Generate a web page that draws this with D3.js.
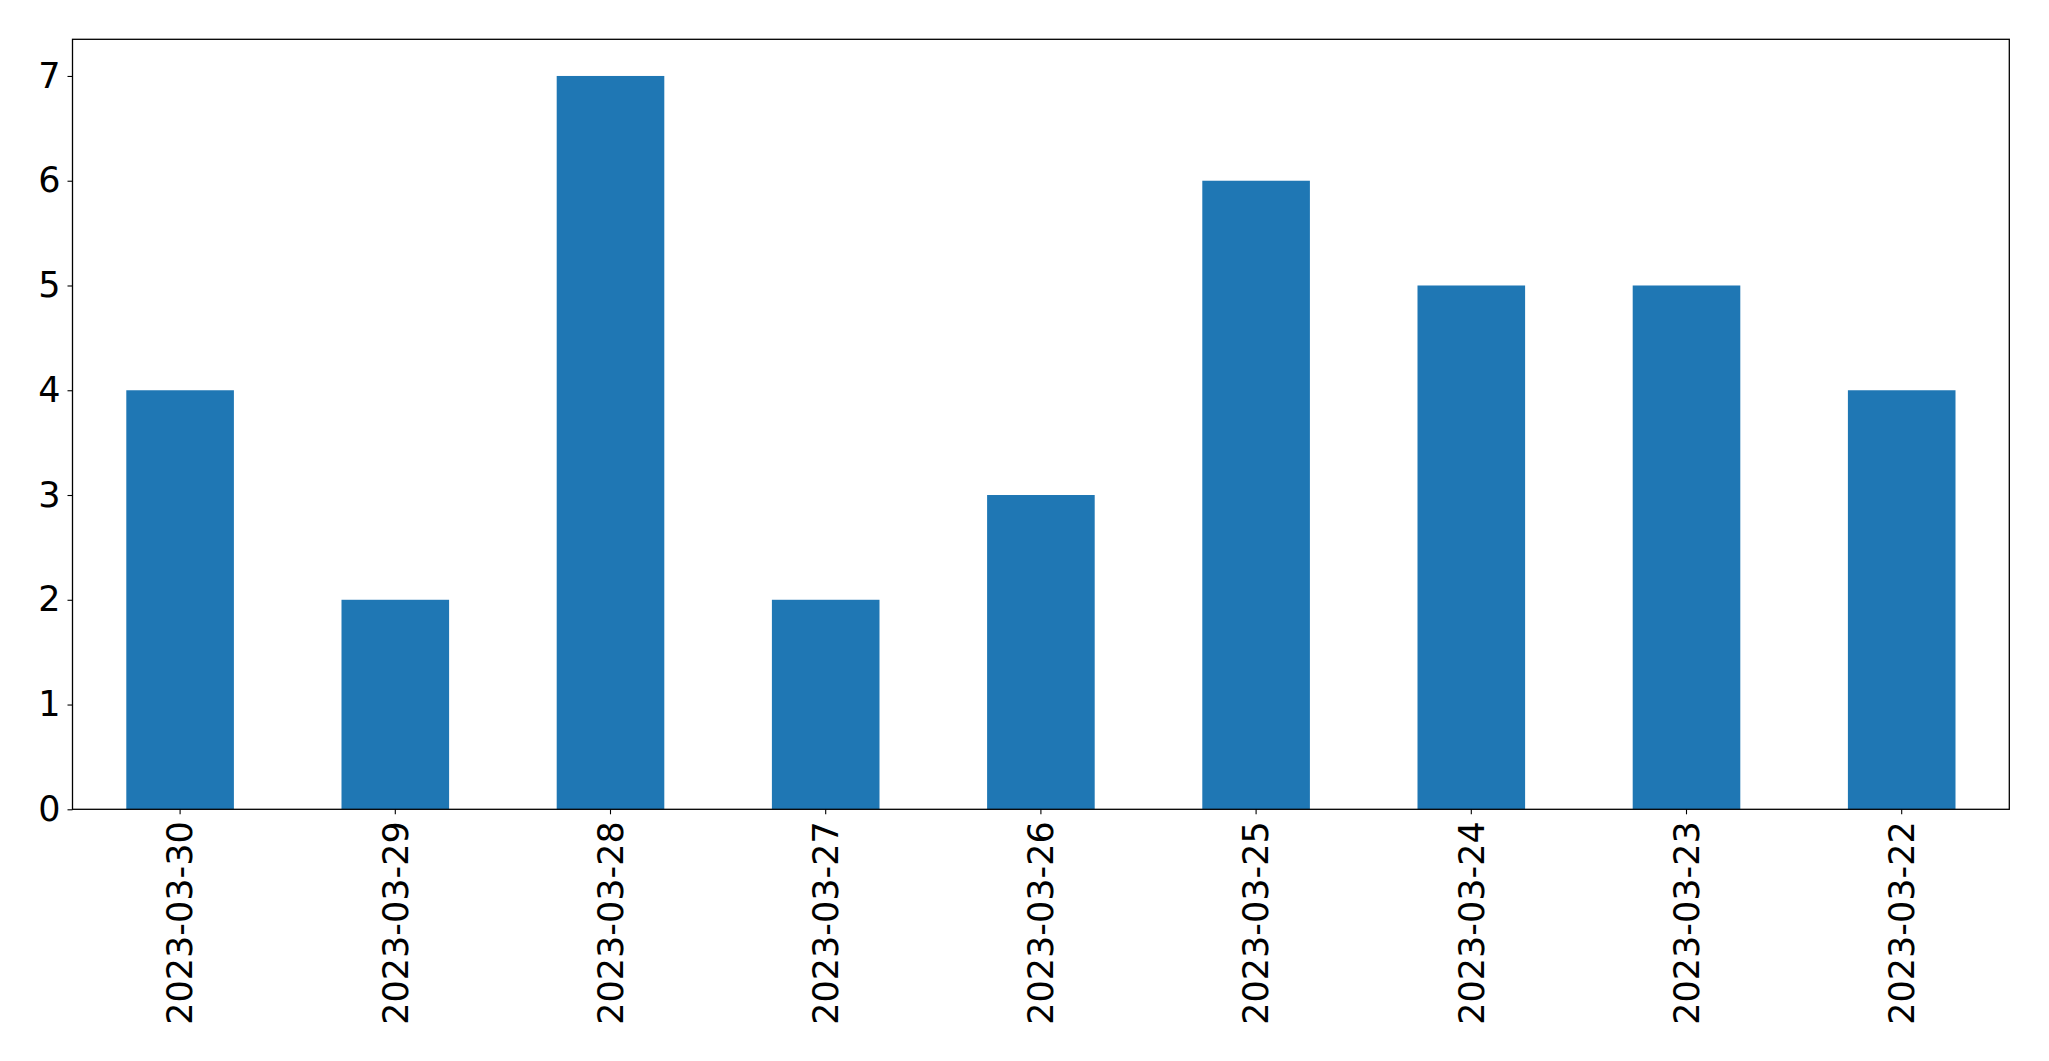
<!DOCTYPE html>
<html>
<head>
<meta charset="utf-8">
<script src="https://cdn.jsdelivr.net/npm/d3@7"></script>
<style>
  html, body { margin: 0; padding: 0; background: #fff; }
  svg { display: block; }
</style>
</head>
<body>
<div id="stage"></div>
<script>
const dates = ['2023-03-30', '2023-03-29', '2023-03-28', '2023-03-27', '2023-03-26',
               '2023-03-25', '2023-03-24', '2023-03-23', '2023-03-22'];
const counts = [4, 2, 7, 2, 3, 6, 5, 5, 4];
const yTicks = [0, 1, 2, 3, 4, 5, 6, 7];

const width = 2049;
const height = 1061;
const margin = {top: 39.3, right: 2049 - 2009.3, bottom: 1061 - 809.3, left: 72.5};

const svg = d3.select('#stage')
    .append('svg')
    .attr('width', width)
    .attr('height', height);

const x = d3.scaleBand()
    .domain(dates)
    .range([margin.left, width - margin.right])
    .paddingInner(0.5)
    .paddingOuter(0.25);

const y = d3.scaleLinear()
    .domain([0, d3.max(counts) * 1.05])
    .range([height - margin.bottom, margin.top]);

// bars
svg.append('g')
    .selectAll('rect')
    .data(dates)
    .join('rect')
    .attr('x', d => x(d))
    .attr('width', x.bandwidth())
    .attr('y', (d, i) => y(counts[i]))
    .attr('height', (d, i) => y(0) - y(counts[i]))
    .attr('fill', '#1f77b4');

const font = '"DejaVu Sans", sans-serif';
const fontSize = 35;

// y axis
const yAxis = svg.append('g')
    .attr('transform', `translate(${margin.left},0)`)
    .call(d3.axisLeft(y).tickValues(yTicks).tickSize(5).tickPadding(7).tickFormat(d3.format('d')));
yAxis.select('.domain').remove();
yAxis.selectAll('.tick line').attr('stroke', '#000').attr('stroke-width', 1.1);
yAxis.selectAll('.tick text')
    .attr('font-family', font)
    .attr('font-size', fontSize)
    .attr('fill', '#000');

// x axis
const xAxis = svg.append('g')
    .attr('transform', `translate(0,${height - margin.bottom})`)
    .call(d3.axisBottom(x).tickSize(5).tickPadding(7));
xAxis.select('.domain').remove();
xAxis.selectAll('.tick line').attr('stroke', '#000').attr('stroke-width', 1.1);
xAxis.selectAll('.tick text')
    .attr('font-family', font)
    .attr('font-size', fontSize)
    .attr('fill', '#000')
    .attr('transform', 'rotate(-90)')
    .attr('text-anchor', 'end')
    .attr('x', -12)
    .attr('y', 0)
    .attr('dy', '0.35em');

// frame
svg.append('rect')
    .attr('x', margin.left)
    .attr('y', margin.top)
    .attr('width', width - margin.left - margin.right)
    .attr('height', height - margin.top - margin.bottom)
    .attr('fill', 'none')
    .attr('stroke', '#000')
    .attr('stroke-width', 1.3);
</script>
</body>
</html>
